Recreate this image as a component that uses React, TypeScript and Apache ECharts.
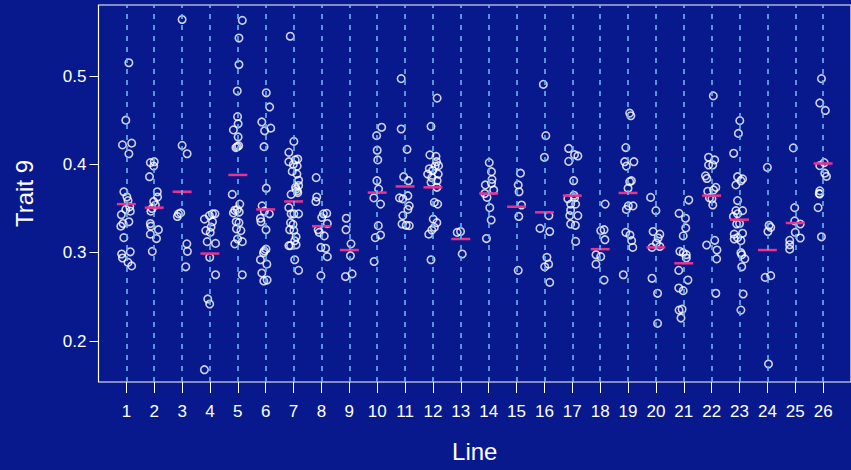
import React, { useEffect, useRef } from "react";
import * as echarts from "echarts";

// Breeding lines on the x axis, one group of observations per line.
const lineLabels = Array.from({ length: 26 }, (_, i) => i + 1);

// Line means (horizontal marks).
const lineMeans = [
  0.355, 0.351, 0.369, 0.299, 0.388, 0.349, 0.358, 0.33, 0.303, 0.368, 0.375, 0.374, 0.3155,
  0.367, 0.352, 0.3457, 0.3646, 0.304, 0.3676, 0.306, 0.288, 0.3646, 0.3374, 0.303, 0.3336, 0.401,
];

// Individual observations per line: [horizontal jitter, trait value].
const traitPoints: [number, number][][] = [
  [[0.09,0.515],[-0.02,0.45],[-0.14,0.422],[0.19,0.424],[0.09,0.412],[-0.09,0.369],[0.02,0.363],[0.06,0.359],[0.12,0.352],[-0.02,0.349],[0.14,0.347],[-0.18,0.343],[0.09,0.335],[-0.12,0.333],[-0.2,0.33],[-0.09,0.317],[-0.17,0.2985],[-0.14,0.294],[0.14,0.301],[0.06,0.289],[0.19,0.285]],
  [[-0.14,0.402],[0,0.403],[-0.02,0.398],[-0.17,0.386],[0.11,0.369],[0.12,0.363],[-0.02,0.358],[0.04,0.354],[-0.12,0.347],[-0.08,0.35],[-0.14,0.333],[-0.12,0.33],[0.15,0.326],[-0.14,0.321],[0.08,0.316],[-0.07,0.3015]],
  [[0,0.564],[0,0.4215],[0.18,0.412],[-0.13,0.344],[-0.05,0.345],[-0.17,0.341],[0.17,0.31],[0.19,0.3015],[0.13,0.284]],
  [[-0.2,0.338],[-0.02,0.342],[0.09,0.344],[0.18,0.344],[0.09,0.335],[-0.15,0.325],[0.04,0.329],[0.01,0.323],[-0.1,0.3125],[0.2,0.3105],[-0.01,0.2947],[0.2,0.275],[-0.08,0.2476],[-0.01,0.2419],[-0.2,0.1675]],
  [[0.16,0.563],[0.04,0.543],[0.04,0.513],[-0.02,0.483],[-0.01,0.454],[0.01,0.446],[-0.16,0.439],[0.01,0.431],[-0.07,0.419],[-0.02,0.42],[0.03,0.421],[-0.2,0.366],[-0.11,0.348],[-0.16,0.345],[-0.02,0.349],[0.07,0.355],[0.05,0.346],[-0.06,0.335],[0.04,0.334],[-0.05,0.327],[0.11,0.325],[-0.01,0.3155],[-0.11,0.31],[0.16,0.3125],[0.16,0.275]],
  [[0.02,0.481],[0.14,0.465],[-0.14,0.448],[0.18,0.441],[-0.04,0.438],[-0.06,0.42],[0.02,0.373],[-0.13,0.353],[-0.05,0.347],[0.13,0.344],[-0.19,0.339],[-0.17,0.335],[0.01,0.326],[-0.05,0.302],[-0.08,0.3],[0.01,0.304],[-0.19,0.292],[0.04,0.287],[-0.14,0.277],[-0.07,0.268],[0.05,0.269]],
  [[-0.12,0.545],[0.01,0.426],[-0.17,0.4136],[-0.17,0.403],[0.15,0.406],[0.06,0.405],[-0.01,0.4],[0.13,0.398],[-0.05,0.392],[0.12,0.389],[0.18,0.382],[0.07,0.374],[0.13,0.37],[-0.09,0.366],[0.18,0.376],[0.09,0.372],[0.15,0.368],[-0.17,0.351],[-0.09,0.344],[0.18,0.344],[0.01,0.344],[-0.11,0.334],[-0.02,0.332],[-0.14,0.326],[0.01,0.325],[0.09,0.318],[0.04,0.3135],[-0.11,0.308],[0.09,0.309],[-0.17,0.308],[0.04,0.292],[0.18,0.28]],
  [[-0.19,0.385],[-0.17,0.363],[-0.2,0.358],[0.07,0.344],[0.19,0.3445],[0.01,0.34],[0.21,0.333],[-0.12,0.326],[-0.08,0.323],[0.1,0.319],[-0.02,0.306],[0.15,0.305],[0.21,0.2955],[-0.02,0.274]],
  [[-0.11,0.339],[-0.12,0.326],[0.06,0.31],[0.04,0.2966],[0.1,0.276],[-0.14,0.273]],
  [[0.16,0.442],[-0.02,0.4325],[0,0.416],[0.02,0.405],[-0.01,0.3815],[0.05,0.372],[-0.12,0.362],[0.12,0.355],[0.04,0.3306],[0.12,0.32],[-0.07,0.317],[-0.11,0.29]],
  [[-0.14,0.497],[-0.14,0.44],[0.07,0.417],[-0.05,0.386],[0.12,0.3815],[-0.2,0.362],[-0.08,0.361],[0.1,0.3645],[0.15,0.353],[0.1,0.349],[-0.08,0.342],[-0.11,0.3325],[0.04,0.331],[0.15,0.3306]],
  [[0.15,0.475],[-0.07,0.443],[-0.11,0.4107],[0.11,0.409],[0.13,0.403],[0.08,0.398],[0.2,0.3985],[-0.13,0.395],[-0.01,0.393],[-0.19,0.389],[0.19,0.389],[-0.04,0.385],[0.15,0.3815],[-0.07,0.3796],[0.14,0.374],[0.05,0.357],[0.17,0.355],[0.01,0.338],[0.14,0.334],[0.05,0.3287],[-0.04,0.3257],[-0.15,0.321],[-0.07,0.292]],
  [[-0.13,0.323],[-0.01,0.324],[0.05,0.2985]],
  [[0.02,0.402],[0.1,0.3917],[0.12,0.383],[0.1,0.3785],[-0.12,0.3767],[0.18,0.371],[-0.14,0.367],[-0.06,0.3626],[0.04,0.351],[0.09,0.337],[-0.08,0.316]],
  [[0.14,0.39],[0.06,0.3767],[0.09,0.369],[0.18,0.354],[0.08,0.341],[0.06,0.28]],
  [[-0.04,0.4906],[0.05,0.4325],[0,0.408],[0.16,0.342],[-0.16,0.3275],[0.19,0.324],[0.09,0.2947],[0.15,0.287],[0.01,0.284],[0.19,0.2664]],
  [[-0.13,0.418],[0.08,0.411],[0.2,0.4095],[-0.13,0.4034],[0.05,0.3815],[0.06,0.365],[-0.16,0.361],[0.08,0.362],[-0.06,0.355],[0.12,0.355],[-0.06,0.348],[-0.09,0.342],[0.2,0.342],[-0.06,0.3325],[0.11,0.331],[0.12,0.3128]],
  [[0.18,0.355],[0.02,0.325],[0.14,0.326],[0.17,0.3147],[-0.15,0.2977],[0.02,0.2955],[-0.15,0.287],[0.14,0.269]],
  [[0.06,0.458],[0.1,0.455],[-0.08,0.419],[-0.12,0.403],[0.21,0.403],[-0.06,0.398],[0.12,0.3815],[0.06,0.3804],[0,0.373],[-0.06,0.349],[0.01,0.353],[0.18,0.353],[-0.08,0.323],[0.07,0.32],[0.13,0.3136],[0.17,0.306],[-0.17,0.275]],
  [[-0.19,0.3626],[0,0.3476],[-0.1,0.324],[0.14,0.321],[0.08,0.3166],[0.02,0.311],[-0.14,0.306],[0.14,0.307],[-0.14,0.271],[0.06,0.254],[0.06,0.22]],
  [[0.18,0.3596],[-0.17,0.3445],[0.06,0.339],[0.07,0.328],[-0.02,0.319],[-0.14,0.3015],[-0.02,0.3],[0.09,0.2977],[0.09,0.294],[-0.18,0.28],[0.15,0.269],[-0.18,0.26],[-0.02,0.257],[-0.17,0.235],[-0.06,0.236],[-0.1,0.226]],
  [[0.06,0.4775],[-0.11,0.408],[0.11,0.405],[-0.11,0.3993],[0.04,0.3993],[-0.22,0.387],[-0.17,0.384],[0.15,0.374],[0.07,0.371],[-0.14,0.3695],[0.01,0.361],[-0.08,0.362],[0.04,0.354],[-0.18,0.3087],[0.11,0.314],[0.19,0.303],[0.18,0.293],[0.15,0.254]],
  [[0.01,0.4495],[-0.04,0.435],[-0.21,0.4125],[-0.07,0.386],[0.11,0.3835],[-0.13,0.3767],[0.05,0.3815],[-0.07,0.359],[0.11,0.3476],[-0.13,0.3476],[-0.22,0.341],[-0.07,0.344],[-0.1,0.3325],[0,0.333],[-0.19,0.321],[0.11,0.322],[-0.07,0.317],[0.05,0.3136],[-0.19,0.3155],[0.05,0.3],[0.08,0.2977],[0.19,0.293],[0.08,0.284],[0.13,0.2532],[0.05,0.235]],
  [[0,0.3966],[0.06,0.331],[0.12,0.3287],[0.02,0.324],[-0.08,0.272],[0.12,0.274],[0.04,0.174]],
  [[-0.07,0.4186],[-0.02,0.351],[-0.02,0.336],[0.18,0.3325],[0,0.323],[0.18,0.3166],[-0.2,0.314],[-0.2,0.309],[-0.2,0.304]],
  [[-0.06,0.497],[-0.12,0.4695],[0.08,0.461],[0.04,0.402],[-0.12,0.3985],[0.06,0.39],[0.12,0.3864],[-0.12,0.37],[-0.14,0.367],[-0.12,0.3665],[-0.18,0.351],[-0.06,0.318]],
];

const yTicks = [0.2, 0.3, 0.4, 0.5];

const FONT = "'Liberation Sans', Arial, Helvetica, sans-serif";
const BG = "#07198c";
const FG = "#ffffff";
const GUIDE = "#6cb4f0";
const MEAN = "#e8338f";

export default function App() {
  const ref = useRef<HTMLDivElement>(null);

  useEffect(() => {
    if (!ref.current) return;
    const chart = echarts.init(ref.current, undefined, { renderer: "svg" });

    const scatterData: number[][] = [];
    traitPoints.forEach((pts, i) => {
      pts.forEach(([dx, v]) => scatterData.push([lineLabels[i] + dx, v]));
    });
    const meanData = lineMeans.map((m, i) => [lineLabels[i], m]);

    chart.setOption({
      animation: false,
      backgroundColor: BG,
      textStyle: { fontFamily: FONT },
      grid: {
        left: 98.5,
        right: -9,
        top: 5,
        bottom: 88,
        show: true,
        borderColor: FG,
        borderWidth: 1.2,
        backgroundColor: "transparent",
      },
      xAxis: {
        type: "value",
        min: 0,
        max: 27,
        name: "Line",
        nameLocation: "middle",
        nameGap: 57,
        nameTextStyle: { color: FG, fontSize: 24, fontFamily: FONT },
        axisLine: { show: false },
        splitLine: { show: false },
        axisTick: {
          show: true,
          length: 11,
          customValues: lineLabels,
          lineStyle: { color: FG, width: 1 },
        },
        axisLabel: {
          customValues: lineLabels,
          color: FG,
          fontSize: 17,
          margin: 21,
          fontFamily: FONT,
        },
      },
      yAxis: {
        type: "value",
        min: 0.1536,
        max: 0.5804,
        name: "Trait 9",
        nameLocation: "middle",
        nameGap: 62,
        nameTextStyle: { color: FG, fontSize: 24, fontFamily: FONT },
        axisLine: { show: false },
        splitLine: { show: false },
        axisTick: {
          show: true,
          length: 9,
          customValues: yTicks,
          lineStyle: { color: FG, width: 1 },
        },
        axisLabel: {
          customValues: yTicks,
          color: FG,
          fontSize: 17,
          margin: 12,
          fontFamily: FONT,
          formatter: (v: number) => v.toFixed(1),
        },
      },
      series: [
        {
          type: "line",
          data: [],
          silent: true,
          z: 1,
          markLine: {
            silent: true,
            symbol: ["none", "none"],
            label: { show: false },
            lineStyle: { color: GUIDE, type: [5, 6], width: 1.6 },
            data: lineLabels.map((k) => ({ xAxis: k })),
          },
        },
        {
          type: "scatter",
          data: scatterData,
          symbol: "circle",
          symbolSize: 7.5,
          silent: true,
          z: 3,
          itemStyle: { color: "rgba(0,0,0,0)", borderColor: FG, borderWidth: 1.6 },
        },
        {
          type: "custom",
          data: meanData,
          silent: true,
          z: 4,
          renderItem: (_params: any, api: any) => {
            const k = api.value(0);
            const m = api.value(1);
            const a = api.coord([k - 0.34, m]);
            const b = api.coord([k + 0.34, m]);
            return {
              type: "line",
              shape: { x1: a[0], y1: a[1], x2: b[0], y2: b[1] },
              style: { stroke: MEAN, lineWidth: 2.5 },
            };
          },
        },
      ],
    });

    return () => chart.dispose();
  }, []);

  return (
    <div
      ref={ref}
      style={{ position: "fixed", left: 0, top: 0, width: 851, height: 470, background: BG }}
    />
  );
}
